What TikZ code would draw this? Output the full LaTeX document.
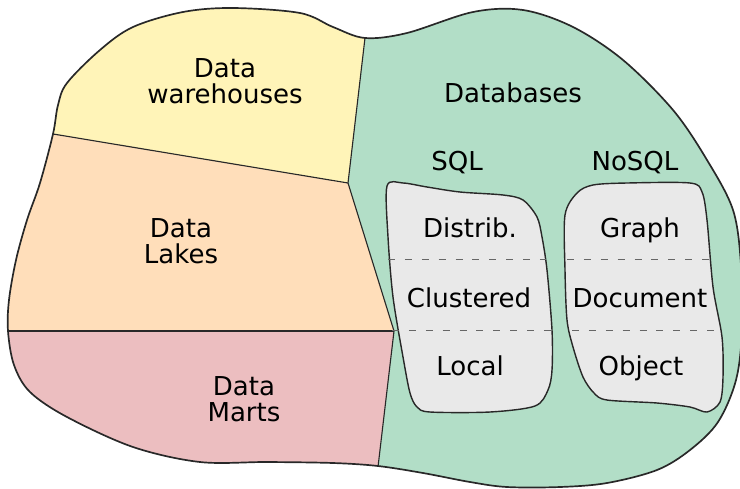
\documentclass[tikz,border=0pt]{standalone}
\usepackage{fontspec}
\setmainfont{DejaVu Sans}
\usepackage{xcolor}
\usepackage{tikz}

\definecolor{whyellow}{RGB}{255,244,184}
\definecolor{lakeorange}{RGB}{255,222,186}
\definecolor{martpink}{RGB}{236,190,192}
\definecolor{dbgreen}{RGB}{178,222,199}
\definecolor{boxgray}{RGB}{233,233,233}
\definecolor{inkgray}{RGB}{40,40,40}

\newcommand{\blobpath}{plot[smooth cycle, tension=0.55] coordinates {
    (53,134) (58,105) (67,83) (100,50) (133,27) (183,12) (233,8) (300,13)
    (333,27) (365,38) (407,33) (473,12) (523,10) (573,27) (623,60) (673,110)
    (707,160) (733,210) (741,265) (742,330) (736,380) (718,422) (690,450)
    (657,470) (607,483) (560,487) (507,487) (470,482) (423,473) (378,466)
    (333,463) (267,462) (200,462) (133,447) (67,417) (30,392) (14,365)
    (8,331) (9,300) (16,260) (27,220) (40,183)}}

\begin{document}
\begin{tikzpicture}[x=0.025cm, y=-0.025cm,
    area text/.style={font=\fontsize{18.5}{18.5}\selectfont, text=black, inner sep=0pt, align=center},
    divider/.style={line width=0.8pt, draw=inkgray},
    storebox/.style={line width=1pt, draw=inkgray, fill=boxgray},
    slotline/.style={dash pattern=on 5pt off 7pt, line width=0.7pt, draw=black!60}]
  \useasboundingbox (0,0) rectangle (740,488);

  % Junctions of the areas
  \coordinate (wlA) at (-10,123.5);
  \coordinate (mid) at (348,183);
  \coordinate (top) at (370.6,-10);
  \coordinate (lmE) at (394,331);
  \coordinate (lmD) at (-10,331);
  \coordinate (bot) at (374.1,500);

  % Blob and its areas
  \fill[dbgreen] \blobpath;
  \begin{scope}
    \clip \blobpath;
    \fill[whyellow] (-10,-10) -- (top) -- (mid) -- (wlA) -- cycle;
    \fill[lakeorange] (wlA) -- (mid) -- (lmE) -- (lmD) -- cycle;
    \fill[martpink] (lmD) -- (lmE) -- (bot) -- (-10,500) -- cycle;
    \draw[divider] (wlA) -- (mid) -- (top);
    \draw[divider] (mid) -- (lmE) -- (bot);
    \draw[divider] (lmD) -- (lmE);
  \end{scope}
  \draw[line width=1.2pt, draw=inkgray] \blobpath;

  % SQL box
  \filldraw[storebox] plot[smooth cycle] coordinates {
    (387,186) (403,183) (427,187) (460,192) (503,195) (523,200) (537,217)
    (542,237) (547,270) (552,330) (552,370) (548,390) (535,406) (490,412)
    (430,412) (417,407) (410,393) (403,357) (393,297) (388,237)};
  \coordinate (sqlA) at (388,259);  \coordinate (sqlB) at (546,259);
  \coordinate (sqlC) at (392,330);  \coordinate (sqlD) at (552,330);
  \draw[slotline] (sqlA) -- (sqlB);
  \draw[slotline] (sqlC) -- (sqlD);

  % NoSQL box
  \filldraw[storebox] plot[smooth cycle] coordinates {
    (565,215) (577,193) (593,185) (627,183) (690,183) (702,192) (707,220)
    (713,287) (722,337) (723,377) (720,402) (707,412) (690,407) (657,403)
    (607,400) (594,393) (583,377) (573,347) (567,320) (565,270)};
  \coordinate (nosqlA) at (567,259);  \coordinate (nosqlB) at (709,259);
  \coordinate (nosqlC) at (572,330);  \coordinate (nosqlD) at (722,330);
  \draw[slotline] (nosqlA) -- (nosqlB);
  \draw[slotline] (nosqlC) -- (nosqlD);

  % Labels
  \node[area text] (warehouses) at (225,81) {Data\\warehouses};
  \node[area text] (lakes) at (181,241) {Data\\Lakes};
  \node[area text] (marts) at (244,399) {Data\\Marts};
  \node[area text, anchor=base] (databases) at (513,102) {Databases};
  \node[area text, anchor=base] (sql) at (457,170) {SQL};
  \node[area text, anchor=base] (nosql) at (635,170) {NoSQL};
  \node[area text, anchor=base] (distrib) at (470,237) {Distrib.};
  \node[area text, anchor=base] (clustered) at (469,307) {Clustered};
  \node[area text, anchor=base] (local) at (470,375) {Local};
  \node[area text, anchor=base] (graph) at (640,237) {Graph};
  \node[area text, anchor=base] (document) at (640,307) {Document};
  \node[area text, anchor=base] (object) at (641,375) {Object};
\end{tikzpicture}
\end{document}
